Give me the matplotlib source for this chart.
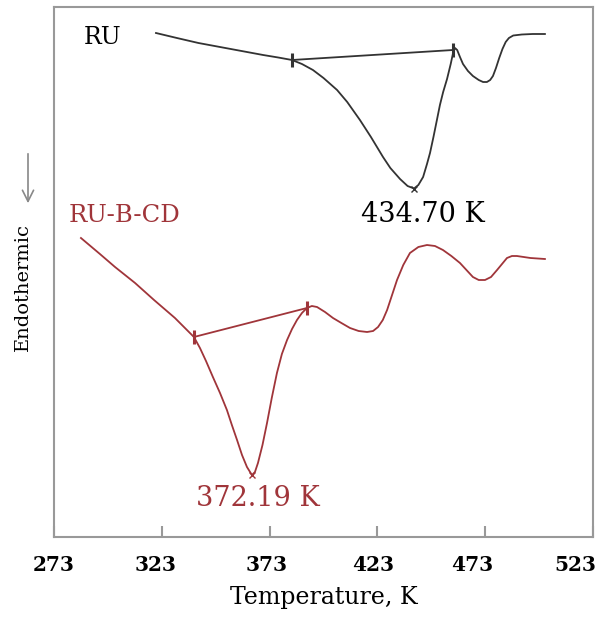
import numpy as np
import matplotlib.pyplot as plt
from matplotlib.patches import FancyArrowPatch
from matplotlib.transforms import ScaledTranslation

# DSC curves (heat flow in arbitrary units)
t_ru = [320.3, 330, 340, 350, 360, 370, 377, 383.4, 388, 393.1, 398, 404.3, 409,
        414.9, 420, 425.6, 429, 433.5, 437, 440.0, 442, 444.2, 446, 447.4, 449,
        450.6, 452, 453.5, 455.3, 457, 458.1, 459.0, 460, 461.3, 462.7, 465, 467.3,
        470, 472, 473.8, 475.3, 476.6, 478, 479.5, 481, 482.5, 484, 486, 490, 495, 500.7]
y_ru = [50.4, 49.9, 49.4, 49.0, 48.6, 48.2, 47.95, 47.7, 47.3, 46.7, 45.9, 44.7, 43.5,
        41.7, 40.0, 38.0, 36.9, 35.8, 35.1, 34.85, 35.2, 36.0, 37.3, 38.4, 40.0,
        41.7, 43.2, 44.5, 45.8, 47.3, 48.4, 48.9, 48.7, 48.0, 47.3, 46.6, 46.1,
        45.7, 45.5, 45.5, 45.7, 46.1, 46.9, 47.9, 48.8, 49.5, 49.9, 50.15, 50.25, 50.3, 50.3]

t_cd = [285.5, 294.3, 301.3, 310.6, 319.4, 329.1, 337.9, 340.7, 343.5, 346.7, 350,
        353.2, 355.5, 357.9, 360.2, 362.5, 364.8, 366.2, 367.6, 369.7, 371.8, 374,
        376.4, 378.7, 381.1, 383.4, 385.7, 388, 390.3, 392.6, 395.0, 398.7, 402.4,
        406.3, 410.3, 414.3, 418.2, 421, 423.3, 425.5, 427.5, 429.8, 432.1, 435,
        438.1, 442, 446.0, 449.7, 453.4, 457.3, 461.3, 464.3, 467.3, 470, 472.9,
        475.7, 478.5, 480.8, 483.1, 485.4, 487.7, 494, 500.7]
y_cd = [29.9, 28.3, 27.0, 25.4, 23.7, 21.9, 20.0, 18.9, 17.6, 16.0, 14.4,
        12.7, 11.2, 9.7, 8.2, 7.0, 6.2, 6.5, 7.4, 9.2, 11.4, 13.9,
        16.4, 18.3, 19.7, 20.8, 21.7, 22.4, 22.9, 23.1, 23.0, 22.5, 21.9,
        21.4, 20.9, 20.6, 20.5, 20.6, 21.0, 21.7, 22.7, 24.2, 25.7, 27.2,
        28.4, 29.0, 29.2, 29.1, 28.7, 28.1, 27.4, 26.7, 26.0, 25.7, 25.7,
        26.0, 26.7, 27.3, 27.9, 28.1, 28.1, 27.9, 27.8]

# peak integration baselines and peak minima
base_ru_t = [383.4, 458.1]
base_ru_y = [47.7, 48.7]
base_cd_t = [337.9, 390.3]
base_cd_y = [20.0, 22.9]
peak_ru = (440.0, 34.85)
peak_cd = (364.8, 6.2)

xticks = [273, 323, 373, 423, 473, 523]
xtick_shift = [0, -6, -3, -4, -13, -18]   # labels sit a bit left of their ticks

black = '#333333'
red = '#a0353a'

plt.rcParams['font.family'] = 'DejaVu Serif'

fig = plt.figure(figsize=(6.04, 6.19), dpi=100)
ax = fig.add_axes([54 / 604, 1 - 537 / 619, 539 / 604, 530 / 619])

ax.plot(t_ru, y_ru, color=black, lw=1.3)
ax.plot(base_ru_t, base_ru_y, color=black, lw=1.3, marker='|', ms=10, mew=2.2)
ax.plot(*peak_ru, marker='x', color=black, ms=5, mew=1)

ax.plot(t_cd, y_cd, color=red, lw=1.3)
ax.plot(base_cd_t, base_cd_y, color=red, lw=1.3, marker='|', ms=10, mew=2.2)
ax.plot(*peak_cd, marker='x', color=red, ms=5, mew=1)

ax.text(295.3, 49.9, 'RU', color='black', fontsize=17, ha='center', va='center')
ax.text(305.5, 32.1, 'RU-B-CD', color=red, fontsize=17.5, ha='center', va='center')
ax.text(444.1, 32.3, '434.70 K', color='black', fontsize=19.5, ha='center', va='center')
ax.text(367.6, 3.9, '372.19 K', color=red, fontsize=19.5, ha='center', va='center')

ax.set_xlim(273, 523)
ax.set_ylim(0, 53.0)
ax.set_xticks(xticks)
ax.set_yticks([])
ax.tick_params(axis='x', direction='in', length=8, width=1.5, color='#999999',
               labelsize=14.5, pad=13)
for lab, dx in zip(ax.get_xticklabels(), xtick_shift):
    lab.set_fontweight('bold')
    lab.set_transform(lab.get_transform() + ScaledTranslation(dx / 100, 0, fig.dpi_scale_trans))
for s in ax.spines.values():
    s.set_color('#999999')
    s.set_linewidth(1.5)

ax.set_xlabel('Temperature, K', fontsize=17, labelpad=8)

# y label with arrow
fig.text(23 / 604, 1 - 287 / 619, 'Endothermic', rotation=90, fontsize=14,
         ha='center', va='center')
fig.add_artist(FancyArrowPatch(
    (28 / 604, 1 - 151 / 619), (28 / 604, 1 - 206 / 619), transform=fig.transFigure,
    arrowstyle='->', mutation_scale=20, color='#888888', lw=1.2))

fig.savefig('out.png', dpi=100)
